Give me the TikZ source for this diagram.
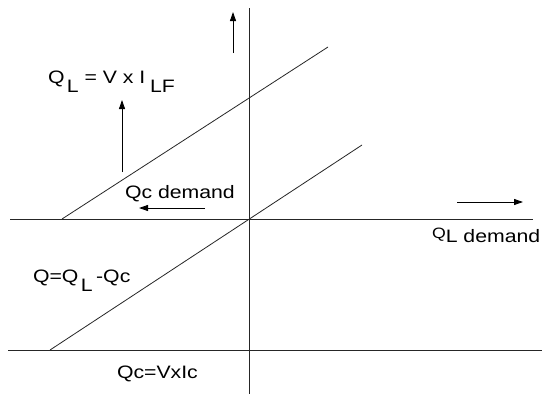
\documentclass[tikz,border=0pt]{standalone}
\usepackage{fontspec}
\usepackage{graphicx}
\setmainfont{Liberation Sans}
\usetikzlibrary{arrows.meta}
\newcommand{\wtxt}[1]{\scalebox{1.18}[1]{\fontsize{18}{20}\selectfont #1}}
\newcommand{\lowr}[1]{\raisebox{-9pt}{#1}}
\tikzset{
  axis/.style={line width=1pt, black!85},
  diag/.style={line width=0.8pt, black!85},
  dirarrow/.style={line width=0.9pt, -{Triangle[length=9pt,width=6pt]}},
  lbl/.style={anchor=base west, inner sep=0pt, outer sep=0pt}
}
\begin{document}
\begin{tikzpicture}[x=1pt,y=-1pt]
\useasboundingbox[fill=white] (0,0) rectangle (543,394);
% axes
\coordinate (vt) at (249,8);
\coordinate (vb) at (249,394);
\coordinate (h1l) at (10,219);
\coordinate (h1r) at (533,219);
\coordinate (h2l) at (8,350);
\coordinate (h2r) at (542,350);
\draw[axis] (vt) -- (vb);
\draw[axis] (h1l) -- (h1r);
\draw[axis] (h2l) -- (h2r);
% diagonals
\coordinate (d1s) at (62,219);
\coordinate (d1e) at (328,47);
\coordinate (d2s) at (50,350);
\coordinate (d2e) at (362,145);
\draw[diag] (d1s) -- (d1e);
\draw[diag] (d2s) -- (d2e);
% direction arrows
\coordinate (a1s) at (233,53);  \coordinate (a1e) at (233,12);
\coordinate (a2s) at (122,172); \coordinate (a2e) at (122,100);
\coordinate (a3s) at (205,208); \coordinate (a3e) at (139,208);
\coordinate (a4s) at (457,202); \coordinate (a4e) at (523,202);
\draw[dirarrow] (a1s) -- (a1e);
\draw[dirarrow] (a2s) -- (a2e);
\draw[dirarrow] (a3s) -- (a3e);
\draw[dirarrow] (a4s) -- (a4e);
% labels
\node[lbl] (ql) at (48,83) {\wtxt{Q\hspace{2pt}\lowr{L} = V x I\hspace{4pt}\lowr{LF}}};
\node[lbl] (qcd) at (125,198) {\wtxt{Qc demand}};
\node[lbl] (qeq) at (33,282) {\wtxt{Q=Q\hspace{2pt}\lowr{L}\hspace{3pt}-Qc}};
\node[lbl] (qcv) at (117,378) {\wtxt{Qc=VxIc}};
\node[lbl] (qld) at (432,238) {\wtxt{{\fontsize{15}{17}\selectfont Q}\raisebox{-4pt}{L demand}}};
\end{tikzpicture}
\end{document}
